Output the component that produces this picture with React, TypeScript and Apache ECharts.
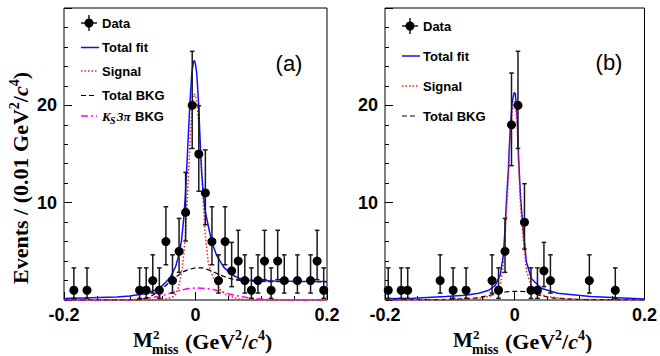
import React, { useEffect, useRef } from 'react';
import * as echarts from 'echarts';

// ---------- data ----------
const HALF_BIN = 0.005;
// panel (a)
const aBinX = [-0.185, -0.165, -0.085, -0.075, -0.065, -0.055, -0.045, -0.035, -0.025, -0.015, -0.005, 0.005, 0.015, 0.025, 0.035, 0.045, 0.055, 0.065, 0.075, 0.085, 0.095, 0.105, 0.115, 0.125, 0.135, 0.155, 0.175, 0.185, 0.195];
const aCounts = [1, 1, 1, 1, 2, 1, 6, 2, 5, 9, 20, 15, 11, 6, 2, 6, 3, 4, 2, 1, 2, 4, 1, 4, 2, 2, 2, 4, 1];
// panel (b)
const bBinX = [-0.195, -0.175, -0.165, -0.115, -0.095, -0.075, -0.035, -0.025, -0.015, -0.005, 0.005, 0.015, 0.025, 0.035, 0.045, 0.055, 0.115, 0.155];
const bCounts = [1, 1, 1, 2, 1, 1, 2, 1, 5, 18, 20, 8, 1, 1, 3, 2, 2, 1];
// Poisson (68%) errors indexed by count
const poissonLo = [0, 0.83, 1.29, 1.63, 1.91, 2.16, 2.38, 2.58, 2.77, 2.94, 3.11, 3.27, 3.42, 3.56, 3.7, 3.83, 3.96, 4.08, 4.2, 4.32, 4.43];
const poissonHi = [1.84, 2.3, 2.64, 2.92, 3.16, 3.38, 3.58, 3.77, 3.95, 4.11, 4.27, 4.42, 4.56, 4.7, 4.83, 4.96, 5.08, 5.2, 5.32, 5.44, 5.55];

const aTotalFit: number[][] = [[-0.2, 0.15], [-0.16, 0.22], [-0.12, 0.32], [-0.1, 0.42], [-0.08, 0.62], [-0.07, 0.8], [-0.06, 1.05], [-0.05, 1.5], [-0.044, 1.9], [-0.038, 2.4], [-0.034, 2.9], [-0.03, 3.5], [-0.0266, 4.3], [-0.0215, 6.0], [-0.018, 8.3], [-0.0155, 10.6], [-0.013, 14.0], [-0.0105, 17.5], [-0.0085, 20.2], [-0.0056, 23.3], [-0.003, 24.5], [-0.0015, 24.6], [0, 24.2], [0.002, 23.2], [0.005, 19.8], [0.007, 16.4], [0.0094, 13.1], [0.012, 10.8], [0.0145, 9.2], [0.017, 8.4], [0.0195, 7.6], [0.0245, 6.0], [0.032, 4.6], [0.0426, 3.4], [0.055, 2.6], [0.068, 2.2], [0.08, 2.05], [0.093, 2.0], [0.12, 1.95], [0.16, 1.92], [0.2, 1.9]];
const aSignal: number[][] = [[-0.2, 0], [-0.06, 0], [-0.045, 0.1], [-0.035, 0.3], [-0.03, 0.6], [-0.025, 1.5], [-0.02, 3.3], [-0.016, 6.0], [-0.013, 9.5], [-0.01, 14.0], [-0.007, 18.0], [-0.004, 20.5], [-0.002, 21.2], [0, 21.0], [0.003, 19.8], [0.006, 17.0], [0.009, 13.5], [0.012, 10.0], [0.0145, 7.0], [0.0195, 3.8], [0.024, 2.8], [0.027, 2.3], [0.032, 1.6], [0.037, 1.1], [0.045, 0.6], [0.0525, 0.4], [0.065, 0.1], [0.08, 0], [0.2, 0]];
const aTotalBkg: number[][] = [[-0.2, 0], [-0.09, 0], [-0.08, 0.1], [-0.07, 0.3], [-0.06, 0.7], [-0.05, 1.2], [-0.04, 1.8], [-0.03, 2.35], [-0.02, 2.85], [-0.01, 3.15], [0, 3.3], [0.01, 3.3], [0.02, 3.1], [0.03, 2.8], [0.04, 2.5], [0.05, 2.25], [0.06, 2.08], [0.07, 1.98], [0.08, 1.93], [0.1, 1.9], [0.15, 1.88], [0.2, 1.87]];
const aKs3piBkg: number[][] = [[-0.2, 0], [-0.11, 0], [-0.09, 0.05], [-0.07, 0.2], [-0.05, 0.45], [-0.04, 0.68], [-0.03, 0.88], [-0.02, 1.05], [-0.01, 1.17], [0, 1.23], [0.01, 1.22], [0.02, 1.15], [0.03, 1.02], [0.04, 0.85], [0.05, 0.65], [0.06, 0.48], [0.07, 0.35], [0.08, 0.22], [0.1, 0.08], [0.12, 0.02], [0.14, 0], [0.2, 0]];

const bTotalFit: number[][] = [[-0.2, 0.12], [-0.157, 0.17], [-0.106, 0.35], [-0.076, 0.5], [-0.0555, 0.7], [-0.04, 1.0], [-0.03, 1.5], [-0.0225, 2.55], [-0.0175, 4.6], [-0.015, 7.3], [-0.0125, 10.5], [-0.01, 13.2], [-0.0073, 17.2], [-0.004, 20.3], [-0.001, 21.3], [0.001, 21.2], [0.004, 18.5], [0.006, 14.5], [0.009, 10.5], [0.0129, 7.3], [0.018, 3.9], [0.0256, 2.2], [0.0408, 1.2], [0.066, 0.7], [0.1168, 0.35], [0.2, 0.1]];
const bSignal: number[][] = [[-0.2, 0], [-0.08, 0.05], [-0.05, 0.2], [-0.035, 0.45], [-0.028, 0.8], [-0.022, 1.6], [-0.018, 3.4], [-0.015, 6.3], [-0.0125, 9.5], [-0.01, 12.3], [-0.0073, 16.3], [-0.004, 19.4], [-0.001, 20.4], [0.001, 20.3], [0.004, 17.6], [0.006, 13.6], [0.009, 9.6], [0.0129, 6.4], [0.018, 3.0], [0.0256, 1.4], [0.035, 0.7], [0.05, 0.35], [0.08, 0.12], [0.12, 0.04], [0.2, 0]];
const bTotalBkg: number[][] = [[-0.2, 0.02], [-0.1, 0.05], [-0.06, 0.2], [-0.04, 0.45], [-0.02, 0.8], [0, 0.9], [0.02, 0.85], [0.04, 0.45], [0.06, 0.2], [0.1, 0.05], [0.2, 0.02]];

const xMin = -0.2, xMax = 0.2, xStep = 0.2;
const yMin = 0, yMax = 30, yStep = 10;
const yLabelValues = [10, 20];

// ---------- styles ----------
const SANS = '"Liberation Sans", Arial, Helvetica, sans-serif';
const SERIF = '"Liberation Serif", "Times New Roman", serif';
const BLUE = '#1010ff';
const RED = '#ff2020';
const MAGENTA = '#ff00ff';
const ERR = '#1a1a1a';

const GRID_A = { left: 64, top: 8, width: 263, height: 292 };
const GRID_B = { left: 385, top: 8, width: 263, height: 292 };

function xAxisCfg(gi: number) {
  return {
    type: 'value', gridIndex: gi, min: xMin, max: xMax, interval: xStep,
    axisLine: { show: false, onZero: false },
    axisTick: { show: true, inside: true, length: 8, lineStyle: { color: '#000', width: 1 } },
    minorTick: { show: true, splitNumber: 4, length: 4, lineStyle: { color: '#000', width: 1 } },
    splitLine: { show: false }, minorSplitLine: { show: false },
    axisLabel: {
      fontSize: 18, fontWeight: 'bold', fontFamily: SANS, color: '#000', margin: 6,
      showMinLabel: true, showMaxLabel: true, hideOverlap: false,
      formatter: (v: number) => (Math.abs(v) < 1e-9 ? '0' : v.toFixed(1)),
    },
  };
}
function yAxisCfg(gi: number) {
  return {
    type: 'value', gridIndex: gi, min: yMin, max: yMax, interval: yStep,
    axisLine: { show: false, onZero: false },
    axisTick: { show: true, inside: true, length: 8, lineStyle: { color: '#000', width: 1 } },
    minorTick: { show: true, splitNumber: 5, length: 4, lineStyle: { color: '#000', width: 1 } },
    splitLine: { show: false }, minorSplitLine: { show: false },
    axisLabel: {
      fontSize: 18, fontWeight: 'bold', fontFamily: SANS, color: '#000', margin: 7,
      formatter: (v: number) => (yLabelValues.includes(Math.round(v)) ? String(Math.round(v)) : ''),
    },
  };
}

function lineSeries(gi: number, data: number[][], color: string, type: any, width: number) {
  return {
    type: 'line', xAxisIndex: gi, yAxisIndex: gi, data, showSymbol: false, symbol: 'none',
    smooth: false, clip: true, z: 3,
    lineStyle: { color, width, type },
  };
}

function errSeries(gi: number, xs: number[], ns: number[]) {
  return {
    type: 'custom', xAxisIndex: gi, yAxisIndex: gi, z: 4, clip: true,
    data: xs.map((x, i) => [x, ns[i], poissonLo[ns[i]], poissonHi[ns[i]]]),
    encode: { x: 0, y: 1 },
    renderItem: (_p: any, api: any) => {
      const x = api.value(0), y = api.value(1), lo = api.value(2), hi = api.value(3);
      const t = api.coord([x, y + hi]);
      const b = api.coord([x, y - lo]);
      const l = api.coord([x - HALF_BIN, y]);
      const r = api.coord([x + HALF_BIN, y]);
      const st = { stroke: ERR, lineWidth: 1.5 };
      const c = 2.3;
      return {
        type: 'group',
        children: [
          { type: 'line', shape: { x1: t[0], y1: t[1], x2: b[0], y2: b[1] }, style: st },
          { type: 'line', shape: { x1: t[0] - c, y1: t[1], x2: t[0] + c, y2: t[1] }, style: st },
          { type: 'line', shape: { x1: b[0] - c, y1: b[1], x2: b[0] + c, y2: b[1] }, style: st },
          { type: 'line', shape: { x1: l[0], y1: l[1], x2: r[0], y2: r[1] }, style: st },
        ],
      };
    },
  };
}

function pointSeries(gi: number, xs: number[], ns: number[]) {
  return {
    type: 'scatter', xAxisIndex: gi, yAxisIndex: gi, z: 5,
    data: xs.map((x, i) => [x, ns[i]]),
    symbol: 'circle', symbolSize: 9,
    itemStyle: { color: '#000', opacity: 1 },
  };
}

// ---------- graphic helpers ----------
function legendText(x: number, y: number, text: string) {
  return { type: 'text', x, y, style: { text, fontSize: 13, fontWeight: 'bold', fontFamily: SANS, fill: '#000', align: 'left', verticalAlign: 'middle' } };
}
function legendLine(x1: number, x2: number, y: number, stroke: string, dash: any, w: number) {
  return { type: 'line', shape: { x1, y1: y, x2, y2: y }, style: { stroke, lineWidth: w, lineDash: dash } };
}
function legendData(x1: number, x2: number, y: number) {
  const cx = (x1 + x2) / 2;
  return [
    { type: 'line', shape: { x1, y1: y, x2, y2: y }, style: { stroke: ERR, lineWidth: 1.5 } },
    { type: 'line', shape: { x1: cx, y1: y - 8, x2: cx, y2: y + 8 }, style: { stroke: ERR, lineWidth: 1.5 } },
    { type: 'circle', shape: { cx, cy: y, r: 4.5 }, style: { fill: '#000' } },
  ];
}
const titleRich = {
  m: { fontSize: 22, fontWeight: 'bold', fontFamily: SERIF, fill: '#000', lineHeight: 25 },
  sup: { fontSize: 14, fontWeight: 'bold', fontFamily: SERIF, fill: '#000', verticalAlign: 'top', lineHeight: 25 },
  it: { fontSize: 22, fontWeight: 'bold', fontStyle: 'italic', fontFamily: SERIF, fill: '#000', lineHeight: 25 },
};
function xTitle(x0: number) {
  return [
    { type: 'text', x: x0, y: 340, style: { text: 'M', fontSize: 21, fontWeight: 'bold', fontFamily: SERIF, fill: '#000', align: 'left', verticalAlign: 'middle' } },
    { type: 'text', x: x0 + 20, y: 334, style: { text: '2', fontSize: 13, fontWeight: 'bold', fontFamily: SERIF, fill: '#000', align: 'left', verticalAlign: 'middle' } },
    { type: 'text', x: x0 + 19, y: 349, style: { text: 'miss', fontSize: 14, fontWeight: 'bold', fontFamily: SERIF, fill: '#000', align: 'left', verticalAlign: 'middle' } },
    { type: 'text', x: x0 + 52, y: 341, style: { text: '{m|(GeV}{sup|2}{m|/}{it|c}{sup|4}{m|)}', rich: titleRich, align: 'left', verticalAlign: 'middle' } },
  ];
}
function ks3piLabel(x: number, y: number) {
  return [
    { type: 'text', x, y, style: { text: 'K', fontSize: 13, fontStyle: 'italic', fontWeight: 'bold', fontFamily: SERIF, fill: '#000', align: 'left', verticalAlign: 'middle' } },
    { type: 'text', x: x + 8, y: y + 4, style: { text: 'S', fontSize: 10, fontStyle: 'italic', fontWeight: 'bold', fontFamily: SERIF, fill: '#000', align: 'left', verticalAlign: 'middle' } },
    { type: 'text', x: x + 15, y, style: { text: '3π', fontSize: 13, fontStyle: 'italic', fontWeight: 'bold', fontFamily: SERIF, fill: '#000', align: 'left', verticalAlign: 'middle' } },
    { type: 'text', x: x + 33, y, style: { text: 'BKG', fontSize: 13, fontWeight: 'bold', fontFamily: SANS, fill: '#000', align: 'left', verticalAlign: 'middle' } },
  ];
}

const DOT = [1.5, 2];
const DASH = [5, 3];
const DASHDOT = [7, 3, 2, 3];

export default function App() {
  const ref = useRef<HTMLDivElement>(null);
  useEffect(() => {
    const chart = echarts.init(ref.current!, null, { renderer: 'svg' });
    const option: any = {
      animation: false,
      backgroundColor: '#fff',
      grid: [
        { ...GRID_A, show: true, borderColor: '#000', borderWidth: 1, backgroundColor: 'transparent', containLabel: false },
        { ...GRID_B, show: true, borderColor: '#000', borderWidth: 1, backgroundColor: 'transparent', containLabel: false },
      ],
      xAxis: [xAxisCfg(0), xAxisCfg(1)],
      yAxis: [yAxisCfg(0), yAxisCfg(1)],
      series: [
        lineSeries(0, aKs3piBkg, MAGENTA, DASHDOT, 1.5),
        lineSeries(0, aTotalBkg, '#000', DASH, 1.2),
        lineSeries(0, aSignal, RED, DOT, 1.5),
        lineSeries(0, aTotalFit, BLUE, 'solid', 1.5),
        errSeries(0, aBinX, aCounts),
        pointSeries(0, aBinX, aCounts),
        lineSeries(1, bTotalBkg, '#000', DASH, 1.2),
        lineSeries(1, bTotalFit, BLUE, 'solid', 1.5),
        lineSeries(1, bSignal, RED, DOT, 1.5),
        errSeries(1, bBinX, bCounts),
        pointSeries(1, bBinX, bCounts),
      ],
      graphic: {
        elements: [
          // y-axis title
          {
            type: 'text', x: 20, y: 178, rotation: Math.PI / 2,
            style: {
              text: '{m|Events / (0.01 GeV}{sup|2}{m|/}{it|c}{sup|4}{m|)}', rich: titleRich,
              align: 'center', verticalAlign: 'middle',
            },
          },
          ...xTitle(133),
          ...xTitle(453),
          // panel labels
          { type: 'text', x: 289, y: 63, style: { text: '(a)', fontSize: 22, fontFamily: SANS, fill: '#000', align: 'center', verticalAlign: 'middle' } },
          { type: 'text', x: 609, y: 62, style: { text: '(b)', fontSize: 22, fontFamily: SANS, fill: '#000', align: 'center', verticalAlign: 'middle' } },
          // legend (a)
          ...legendData(81, 97, 23),
          legendText(102, 23, 'Data'),
          legendLine(81, 99, 47.5, BLUE, null, 1.5),
          legendText(102, 47.5, 'Total fit'),
          legendLine(81, 97, 71, RED, DOT, 1.5),
          legendText(102, 71, 'Signal'),
          legendLine(81, 97, 95.5, '#000', DASH, 1.2),
          legendText(102, 95.5, 'Total BKG'),
          legendLine(81, 97, 116, MAGENTA, DASHDOT, 1.5),
          ...ks3piLabel(102, 116),
          // legend (b)
          ...legendData(402, 418, 26),
          legendText(423, 26, 'Data'),
          legendLine(402, 420, 56, BLUE, null, 1.5),
          legendText(423, 56, 'Total fit'),
          legendLine(402, 418, 86, RED, DOT, 1.5),
          legendText(423, 86, 'Signal'),
          legendLine(402, 418, 116, '#000', DASH, 1.2),
          legendText(423, 116, 'Total BKG'),
        ],
      },
    };
    chart.setOption(option);
    return () => chart.dispose();
  }, []);
  return <div ref={ref} style={{ position: 'fixed', left: 0, top: 0, width: 660, height: 356, background: '#fff' }} />;
}
